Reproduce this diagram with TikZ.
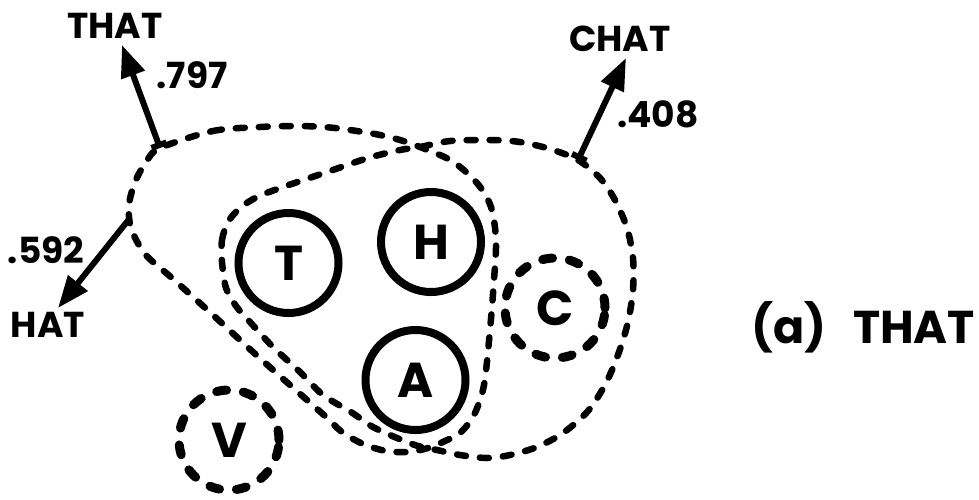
\documentclass[tikz,border=0pt]{standalone}
\usepackage{fontspec}
\setmainfont{Poppins}
\usetikzlibrary{arrows.meta}
\begin{document}
\begin{tikzpicture}[x=1pt,y=-1pt,
  lbl/.style={font=\fontsize{36}{36}\selectfont\bfseries, inner sep=0pt, anchor=base},
  captxt/.style={font=\fontsize{46}{46}\selectfont\bfseries, inner sep=0pt, anchor=base},
  unit/.style={circle, draw, line width=8pt, minimum size=100pt, inner sep=0pt,
    font=\fontsize{49}{49}\selectfont\bfseries},
  dunit/.style={unit, line width=9pt, dash pattern=on 10pt off 17pt, line cap=round},
  grp/.style={line width=6.5pt, dash pattern=on 9pt off 14pt, line cap=round},
  arr/.style={line width=6pt, {Bar[width=16pt]}-{Triangle[length=32pt,width=24pt]}},
  arrh/.style={line width=6pt, -{Triangle[length=32pt,width=24pt]}},
]
\useasboundingbox (0,0) rectangle (979,499);
\fill[white] (0,0) rectangle (979,499);

% units
\node[unit]  (T) at (288.5,263) {T};
\node[unit]  (H) at (431,242) {H};
\node[unit]  (A) at (415.5,380) {A};
\node[dunit] (C) at (555,308) {C};
\node[dunit] (V) at (229,440) {V};

% group loops
\draw[grp] plot[smooth cycle, tension=0.5] coordinates {
  (160,148) (213,131) (260,127) (300,126) (335,128) (375,134) (400,140) (420,147)
  (452,161) (477,183) (491,207) (496,240) (494,280) (490,330) (484,385)
  (474,415) (460,433) (445,441) (428,448) (408,452) (386,451) (363,444)
  (342,432) (325,416) (290,385) (253,352) (213,315) (172,278) (145,254)
  (131,228) (129,205) (135,182) (146,162)};
\draw[grp] plot[smooth cycle, tension=0.5] coordinates {
  (222,262) (222,240) (228,222) (240,208) (257,197) (283,187) (330,171)
  (368,158) (400,150) (420,147) (450,141) (490,140) (520,142) (550,149)
  (578,160) (600,178) (615,200) (627,228) (633,258) (633,290) (628,322)
  (619,352) (606,383) (588,411) (563,433) (537,447) (510,455) (487,458)
  (460,455) (437,450) (418,446) (397,438) (373,427) (351,412) (323,395)
  (300,372) (273,347) (250,322) (236,306) (226,288)};

% arrow anchors
\coordinate (thatbase) at (160,148);
\coordinate (thattip) at (122,45);
\coordinate (chatbase) at (578,160);
\coordinate (chattip) at (626,58);
\coordinate (hatbase) at (130,218);
\coordinate (hattip) at (58,308);

\draw[arr] (thatbase) -- (thattip);
\draw[arr] (chatbase) -- (chattip);
\draw[arrh] (hatbase) -- (hattip);

% labels
\node[lbl] (lthat) at (115,38) {THAT};
\node[lbl] (v797) at (192,88) {.797};
\node[lbl] (lchat) at (620,51) {CHAT};
\node[lbl] (v408) at (658,127) {.408};
\node[lbl] (lhat) at (48,337) {HAT};
\node[lbl] (v592) at (46,263) {.592};

% caption
\node[captxt] (capa) at (789,343) {(a)};
\node[captxt] (capw) at (914,343) {THAT};
\end{tikzpicture}
\end{document}
